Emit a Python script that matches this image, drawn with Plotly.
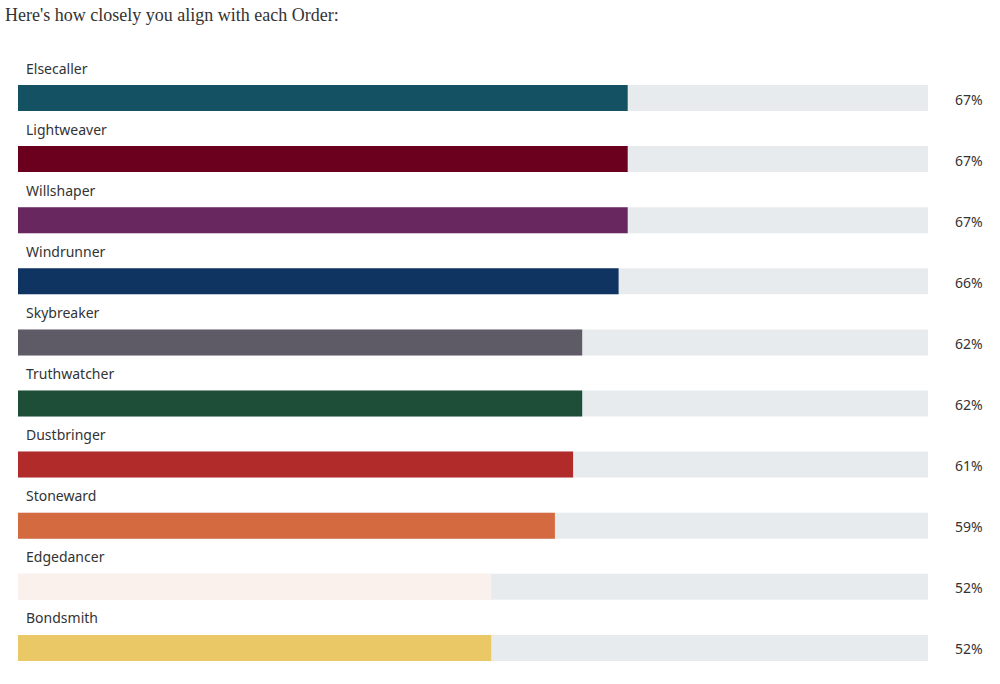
import plotly.graph_objects as go

orders = ["Elsecaller", "Lightweaver", "Willshaper", "Windrunner", "Skybreaker",
          "Truthwatcher", "Dustbringer", "Stoneward", "Edgedancer", "Bondsmith"]
values = [67, 67, 67, 66, 62, 62, 61, 59, 52, 52]
colors = ["#145263", "#6a001e", "#68275e", "#0f3462", "#5f5b66",
          "#1f4e38", "#b12b2a", "#d46a40", "#fbf1ec", "#eac865"]
title_text = "Here's how closely you align with each Order:"

W, H = 1000, 684
first_center = 98.0
step = 61.1
bar_px = 26.0

idx = list(range(len(orders)))
y0 = -first_center / step
y1 = (H - first_center) / step

fig = go.Figure()
fig.add_trace(go.Bar(
    x=[100] * len(orders), y=idx, orientation="h",
    marker=dict(color="#e8ebee", line=dict(width=0)),
    width=bar_px / step, hoverinfo="skip", showlegend=False,
))
fig.add_trace(go.Bar(
    x=values, y=idx, orientation="h",
    marker=dict(color=colors, line=dict(width=0)),
    width=bar_px / step, showlegend=False,
    customdata=orders, hovertemplate="%{customdata}: %{x}%<extra></extra>",
))

annotations = [dict(
    x=3 / W, y=1 - 15 / H, xref="paper", yref="paper",
    text=title_text, showarrow=False, xanchor="left", yanchor="middle",
    font=dict(family="Liberation Serif, serif", size=18, color="#333333"),
)]
for i, (name, v) in enumerate(zip(orders, values)):
    annotations.append(dict(
        x=24 / W, y=i - 30 / step, xref="paper", yref="y",
        text=name, showarrow=False, xanchor="left", yanchor="middle",
        font=dict(family="Noto Sans, Open Sans, sans-serif", size=14, color="#333333"),
    ))
    annotations.append(dict(
        x=969 / W, y=i + 1 / step, xref="paper", yref="y",
        text=f"{v}%", showarrow=False, xanchor="center", yanchor="middle",
        font=dict(family="Noto Sans, Open Sans, sans-serif", size=14, color="#333333"),
    ))

fig.update_layout(
    width=W, height=H,
    margin=dict(l=0, r=0, t=0, b=0),
    paper_bgcolor="white", plot_bgcolor="white",
    barmode="overlay",
    xaxis=dict(domain=[18 / W, 928 / W], range=[0, 100], visible=False, fixedrange=True),
    yaxis=dict(domain=[0, 1], range=[y1, y0], visible=False, fixedrange=True),
    annotations=annotations,
)

fig.write_html("out.html")
